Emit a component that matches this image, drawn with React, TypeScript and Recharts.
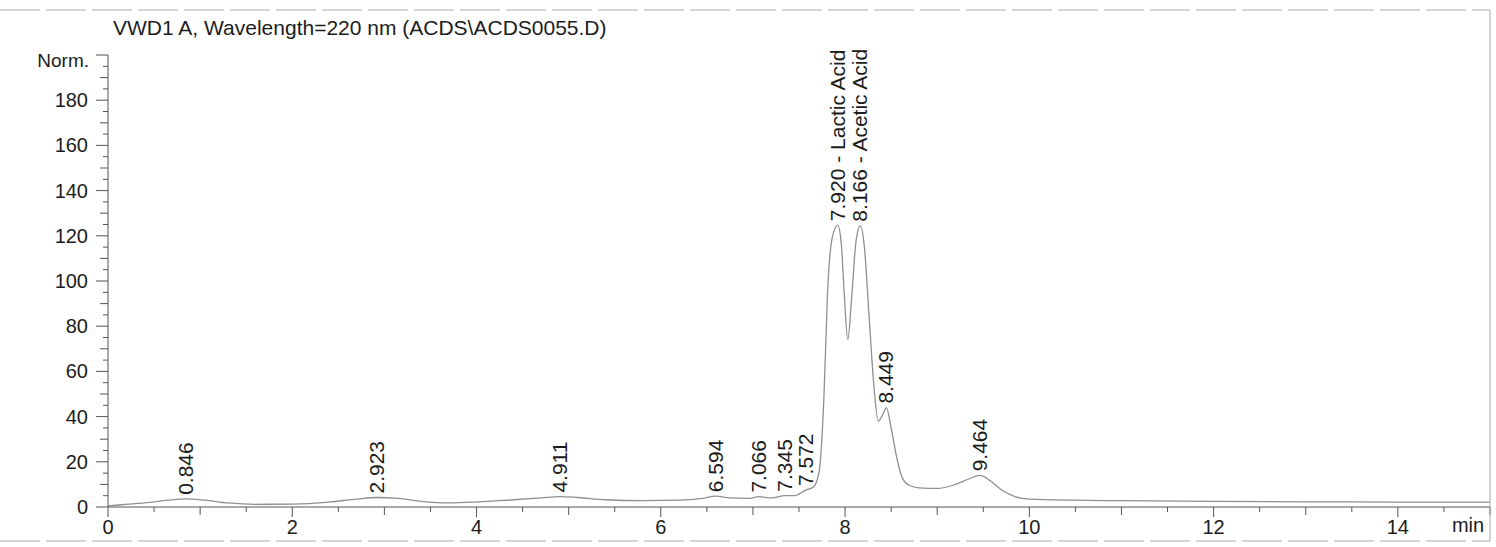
import React from 'react';
import { ComposedChart, Line, Scatter, XAxis, YAxis } from 'recharts';

// retention time (min)
const timeMin = [
  0, 0.15, 0.4, 0.65, 0.846, 1.05, 1.3, 1.6, 2.0, 2.4, 2.7, 2.923, 3.15, 3.4, 3.7,
  4.0, 4.4, 4.7, 4.911, 5.1, 5.4, 5.8, 6.2, 6.45, 6.594, 6.75, 6.95, 7.066, 7.2,
  7.345, 7.45, 7.572, 7.66, 7.72, 7.77, 7.81, 7.86, 7.92, 7.96, 7.99, 8.03, 8.07,
  8.12, 8.166, 8.21, 8.26, 8.31, 8.36, 8.41, 8.449, 8.5, 8.56, 8.62, 8.7, 8.8, 9.0,
  9.2, 9.35, 9.464, 9.58, 9.7, 9.85, 10.0, 10.5, 11.0, 12.0, 13.0, 14.0, 15.0,
];
// detector signal (Norm.)
const signal = [
  0.5, 1, 1.8, 3, 3.6, 3, 1.8, 1.2, 1.3, 2.2, 3.5, 4.2, 3.8, 2.5, 1.8,
  2.2, 3.2, 4.0, 4.6, 4.2, 3.2, 2.8, 3.0, 3.8, 4.8, 4.0, 3.8, 4.6, 4.0,
  5.0, 5.0, 7.5, 9, 16, 48, 95, 119, 124.7, 116, 95, 74, 92,
  118, 124.5, 115, 85, 55, 38, 41, 44, 35, 22, 13, 9.5, 8.5, 8.2,
  10, 12.5, 14, 11.5, 7.5, 4.5, 3.5, 3, 2.8, 2.5, 2.3, 2.2, 2.2,
];

const peakTimes = [0.846, 2.923, 4.911, 6.594, 7.066, 7.345, 7.572, 7.92, 8.166, 8.449, 9.464];
const peakHeights = [3.6, 4.2, 4.6, 4.8, 4.6, 5.0, 7.5, 124.7, 124.5, 44, 14];
const peakLabels = [
  '0.846', '2.923', '4.911', '6.594', '7.066', '7.345', '7.572',
  '7.920 -  Lactic Acid', '8.166 -  Acetic Acid', '8.449', '9.464',
];

const xTickValues = [
  0, 0.5, 1, 1.5, 2, 2.5, 3, 3.5, 4, 4.5, 5, 5.5, 6, 6.5, 7, 7.5, 8, 8.5, 9, 9.5,
  10, 10.5, 11, 11.5, 12, 12.5, 13, 13.5, 14, 14.5, 15,
];
const xLabelValues = [0, 2, 4, 6, 8, 10, 12, 14];
const yTickValues = [
  0, 5, 10, 15, 20, 25, 30, 35, 40, 45, 50, 55, 60, 65, 70, 75, 80, 85, 90, 95, 100,
  105, 110, 115, 120, 125, 130, 135, 140, 145, 150, 155, 160, 165, 170, 175, 180,
  185, 190, 195, 200,
];
const yLabelValues = [0, 20, 40, 60, 80, 100, 120, 140, 160, 180];

const title = 'VWD1 A, Wavelength=220 nm (ACDS\\ACDS0055.D)';
const yUnit = 'Norm.';
const xUnit = 'min';

const curve = timeMin.map((t, i) => ({ t, v: signal[i] }));
const peaks = peakTimes.map((t, i) => ({ t, v: peakHeights[i], label: peakLabels[i] }));

const FONT = '"Liberation Sans", Arial, sans-serif';
const INK = '#1c1c1c';
const AXIS = '#555';

const XTick = (props: any) => {
  const { x, y, payload } = props;
  const v = payload.value;
  const major = xLabelValues.includes(v);
  const len = major ? 10 : Number.isInteger(v) ? 8 : 5;
  return (
    <g>
      <line x1={x} x2={x} y1={y} y2={y + len} stroke={AXIS} strokeWidth={1} />
      {major && (
        <text x={x} y={y + 27} textAnchor="middle" fontSize={20} fontFamily={FONT} fill={INK}>
          {v}
        </text>
      )}
    </g>
  );
};

const YTick = (props: any) => {
  const { x, y, payload } = props;
  const v = payload.value;
  const major = yLabelValues.includes(v) || v === 200;
  const len = major ? 12 : v % 10 === 0 ? 8 : 5;
  return (
    <g>
      <line x1={x - len} x2={x} y1={y} y2={y} stroke={AXIS} strokeWidth={1} />
      {yLabelValues.includes(v) && (
        <text x={x - 20} y={y + 7} textAnchor="end" fontSize={20} fontFamily={FONT} fill={INK}>
          {v}
        </text>
      )}
      {v === 200 && (
        <text x={x - 19} y={y + 12} textAnchor="end" fontSize={19} fontFamily={FONT} fill={INK}>
          {yUnit}
        </text>
      )}
    </g>
  );
};

const PeakLabel = (props: any) => {
  const { cx, cy, payload } = props;
  if (cx == null || cy == null) return <g />;
  const x = cx + 7;
  const y = cy - 4;
  return (
    <text
      x={x}
      y={y}
      transform={`rotate(-90 ${x} ${y})`}
      fontSize={21}
      fontFamily={FONT}
      fill={INK}
      textAnchor="start"
    >
      {payload.label}
    </text>
  );
};

export default function App() {
  return (
    <div style={{ position: 'absolute', left: 0, top: 0, width: 1496, height: 547, background: '#fff' }}>
      <ComposedChart
        width={1496}
        height={547}
        margin={{ top: 55, right: 6, bottom: 0, left: 0 }}
      >
        <XAxis
          type="number"
          dataKey="t"
          domain={[0, 15]}
          ticks={xTickValues}
          interval={0}
          tickSize={0}
          tickMargin={0}
          tick={<XTick />}
          height={40}
          axisLine={{ stroke: AXIS, strokeWidth: 1 }}
        />
        <YAxis
          type="number"
          dataKey="v"
          domain={[0, 200]}
          ticks={yTickValues}
          interval={0}
          tickSize={0}
          tickMargin={0}
          tick={<YTick />}
          width={108}
          axisLine={{ stroke: AXIS, strokeWidth: 1 }}
        />
        <Line
          data={curve}
          dataKey="v"
          type="monotone"
          stroke="#8f8f8f"
          strokeWidth={1.3}
          dot={false}
          activeDot={false}
          isAnimationActive={false}
        />
        <Scatter
          data={peaks}
          dataKey="v"
          shape={(p: any) => <PeakLabel {...p} />}
          isAnimationActive={false}
        />
      </ComposedChart>
      <svg
        width={1496}
        height={547}
        style={{ position: 'absolute', left: 0, top: 0, pointerEvents: 'none' }}
      >
        <line x1={0} x2={1490} y1={10} y2={10} stroke="#aaa" strokeWidth={1} strokeDasharray="40 6" />
        <line x1={0} x2={1490} y1={541} y2={541} stroke="#aaa" strokeWidth={1} strokeDasharray="40 6" />
        <line x1={1490} x2={1490} y1={10} y2={541} stroke="#aaa" strokeWidth={1} />
        <text x={113} y={35} fontSize={21} fontFamily={FONT} fill={INK}>
          {title}
        </text>
        <text x={1468} y={532} textAnchor="middle" fontSize={20} fontFamily={FONT} fill={INK}>
          {xUnit}
        </text>
      </svg>
    </div>
  );
}
